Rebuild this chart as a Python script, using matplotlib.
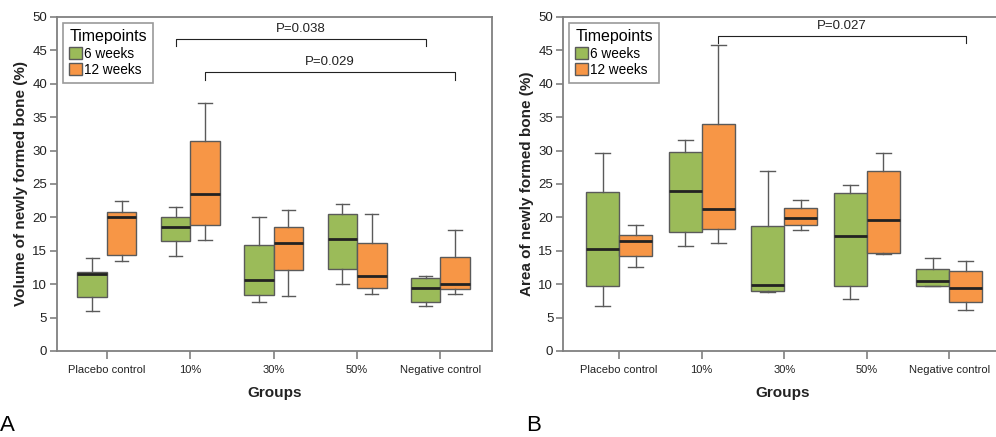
# -*- coding: utf-8 -*-
import numpy as np
import matplotlib
matplotlib.use('Agg')
import matplotlib.pyplot as plt
from matplotlib.patches import Patch

plt.rcParams['font.family'] = ['Liberation Sans', 'DejaVu Sans']

groups = ['Placebo control', '10%', '30%', '50%', 'Negative control']
timepoints = ['6 weeks', '12 weeks']

# box stats: whislo, q1, median, q3, whishi
vol_6w = [[6.0, 8.1, 11.5, 11.9, 13.9],
          [14.2, 16.4, 18.6, 20.1, 21.6],
          [7.4, 8.4, 10.6, 15.9, 20.1],
          [10.1, 12.3, 16.8, 20.55, 22.0],
          [6.7, 7.4, 9.4, 11.0, 11.3]]
vol_12w = [[13.4, 14.3, 20.1, 20.85, 22.5],
           [16.6, 18.9, 23.5, 31.5, 37.1],
           [8.3, 12.2, 16.1, 18.6, 21.1],
           [8.6, 9.5, 11.2, 16.2, 20.45],
           [8.6, 9.3, 10.1, 14.1, 18.05]]
area_6w = [[6.8, 9.75, 15.3, 23.75, 29.7],
           [15.65, 17.8, 23.95, 29.85, 31.65],
           [8.8, 9.0, 9.85, 18.75, 27.0],
           [7.85, 9.8, 17.15, 23.65, 24.9],
           [9.7, 9.75, 10.55, 12.3, 13.95]]
area_12w = [[12.5, 14.25, 16.5, 17.4, 18.8],
            [16.15, 18.25, 21.3, 34.0, 45.75],
            [18.05, 18.85, 19.9, 21.4, 22.65],
            [14.45, 14.65, 19.55, 26.9, 29.6],
            [6.15, 7.35, 9.4, 11.95, 13.5]]

# brackets: (group_from, series_from, group_to, series_to, y, label)
vol_pvals = [(1, 0, 4, 0, 46.7, 'P=0.038'),
             (1, 1, 4, 1, 41.7, 'P=0.029')]
area_pvals = [(1, 1, 4, 1, 47.2, 'P=0.027')]

colors = ['#9bbb59', '#f79646']
edge = '#5a5a5a'
frame = '#808080'


def to_stats(rows):
    out = []
    for lo, q1, med, q3, hi in rows:
        out.append(dict(whislo=lo, q1=q1, med=med, q3=q3, whishi=hi, fliers=[]))
    return out


def draw_panel(ax, six, twelve, pvals, ylabel, half, xlim):
    x = np.arange(1, len(groups) + 1)
    for i, data in enumerate([six, twelve]):
        pos = x - half if i == 0 else x + half
        bp = ax.bxp(to_stats(data), positions=pos, widths=2 * half,
                    patch_artist=True, showfliers=False, capwidths=0.9 * half,
                    boxprops=dict(edgecolor=edge, linewidth=1.0),
                    medianprops=dict(color='#222222', linewidth=2.0),
                    whiskerprops=dict(color=edge, linewidth=1.0),
                    capprops=dict(color=edge, linewidth=1.0),
                    manage_ticks=False)
        for b in bp['boxes']:
            b.set_facecolor(colors[i])

    for g1, s1, g2, s2, yb, lab in pvals:
        xa = x[g1] + (half if s1 else -half)
        xb = x[g2] + (half if s2 else -half)
        ax.plot([xa, xa, xb, xb], [yb - 1.1, yb, yb, yb - 1.1], color='#222222', lw=0.8)
        ax.text((xa + xb) / 2, yb + 0.6, lab, ha='center', va='bottom', fontsize=9.5, color='#222222')

    ax.set_xlim(*xlim)
    ax.set_ylim(0, 50)
    ax.set_yticks(np.arange(0, 51, 5))
    ax.set_xticks(x)
    ax.set_xticklabels(groups, fontsize=8, color='#222222')
    ax.tick_params(axis='y', labelsize=9.5, labelcolor='#222222', color=frame, length=5, width=1.2, pad=2)
    ax.tick_params(axis='x', color=frame, length=6, width=1.2, pad=4)
    ax.set_xlabel('Groups', fontsize=11, fontweight='bold', color='#222222', labelpad=8)
    ax.set_ylabel(ylabel, fontsize=11, fontweight='bold', color='#222222', labelpad=3)
    for sp in ax.spines.values():
        sp.set_color(frame)
        sp.set_linewidth(1.3)

    handles = [Patch(facecolor=colors[i], edgecolor=edge, label=timepoints[i]) for i in range(2)]
    leg = ax.legend(handles=handles, title='Timepoints', loc='upper left',
                    bbox_to_anchor=(0.014, 0.982), borderaxespad=0,
                    fontsize=9.8, title_fontsize=11.5,
                    frameon=True, fancybox=False, edgecolor=frame, borderpad=0.45,
                    handlelength=0.95, handleheight=1.0, handletextpad=0.15, labelspacing=0.18)
    leg.get_frame().set_linewidth(1.2)
    leg._legend_box.align = 'left'


fig = plt.figure(figsize=(9.96, 4.37), dpi=100)
ax_a = fig.add_axes([0.0572, 0.1968, 0.4368, 0.7643])
ax_b = fig.add_axes([0.5653, 0.1968, 0.4400, 0.7643])

draw_panel(ax_a, vol_6w, vol_12w, vol_pvals, 'Volume of newly formed bone (%)', 0.177, (0.4, 5.62))
draw_panel(ax_b, area_6w, area_12w, area_pvals, 'Area of newly formed bone (%)', 0.2, (0.32, 5.63))

fig.text(0.0, 0.003, 'A', fontsize=16, ha='left', va='bottom')
fig.text(0.528, 0.003, 'B', fontsize=16, ha='left', va='bottom')

fig.savefig('out.png', dpi=100)
